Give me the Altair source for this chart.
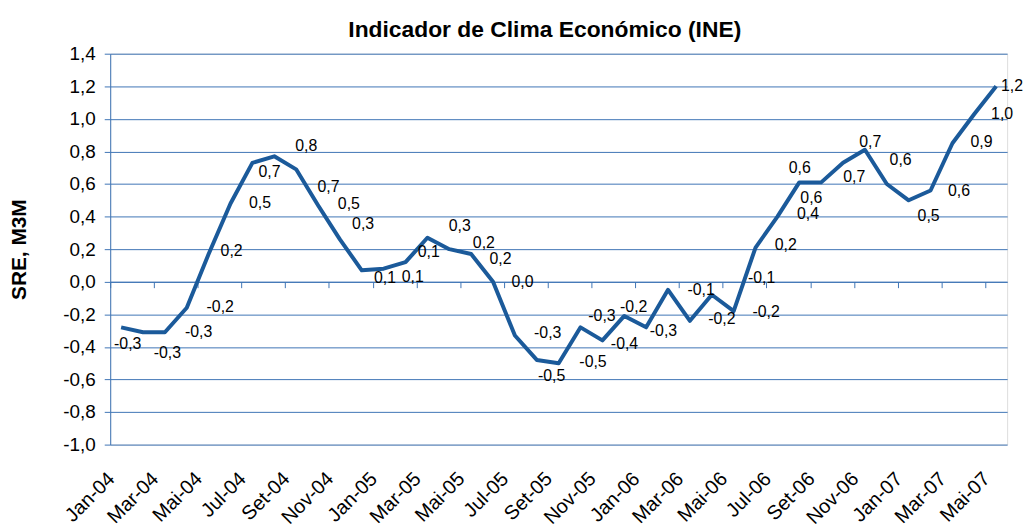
import altair as alt
import pandas as pd

FONT = "Liberation Sans, Arial, sans-serif"

months = ["Jan-04", "Fev-04", "Mar-04", "Abr-04", "Mai-04", "Jun-04", "Jul-04", "Ago-04",
          "Set-04", "Out-04", "Nov-04", "Dez-04", "Jan-05", "Fev-05", "Mar-05", "Abr-05",
          "Mai-05", "Jun-05", "Jul-05", "Ago-05", "Set-05", "Out-05", "Nov-05", "Dez-05",
          "Jan-06", "Fev-06", "Mar-06", "Abr-06", "Mai-06", "Jun-06", "Jul-06", "Ago-06",
          "Set-06", "Out-06", "Nov-06", "Dez-06", "Jan-07", "Fev-07", "Mar-07", "Abr-07",
          "Mai-07"]
values = [-0.28, -0.31, -0.31, -0.16, 0.17, 0.48, 0.73, 0.77, 0.69, 0.47, 0.26, 0.07,
          0.08, 0.12, 0.27, 0.20, 0.17, 0.00, -0.33, -0.48, -0.50, -0.28, -0.36, -0.21,
          -0.28, -0.05, -0.24, -0.08, -0.18, 0.21, 0.40, 0.61, 0.61, 0.73, 0.81, 0.60,
          0.50, 0.56, 0.85, 1.03, 1.20]

# data labels as they appear on the chart (text, month position, value position)
label_text = ["-0,3", "-0,3", "-0,3", "-0,2", "0,2", "0,5", "0,7", "0,8", "0,7", "0,5",
              "0,3", "0,1", "0,1", "0,1", "0,3", "0,2", "0,2", "0,0", "-0,3", "-0,5",
              "-0,5", "-0,3", "-0,4", "-0,2", "-0,3", "-0,1", "-0,2", "-0,1", "-0,2", "0,2",
              "0,4", "0,6", "0,6", "0,7", "0,7", "0,6", "0,5", "0,6", "0,9", "1,0", "1,2"]
label_x = [0.80, 2.61, 4.04, 5.03, 5.55, 6.85, 7.28, 8.96, 9.98, 10.91,
           11.56, 12.56, 13.83, 14.56, 15.98, 17.08, 17.84, 18.85, 20.00, 20.18,
           22.07, 22.48, 23.51, 23.93, 25.29, 27.01, 27.96, 29.78, 29.98, 30.88,
           31.90, 32.05, 31.52, 34.01, 34.74, 36.13, 37.41, 38.80, 39.83, 40.77, 41.22]
label_y = [-0.385, -0.436, -0.306, -0.155, 0.19, 0.484, 0.675, 0.831, 0.584, 0.478,
           0.356, 0.021, 0.027, 0.183, 0.34, 0.235, 0.139, -0.003, -0.314, -0.582,
           -0.493, -0.208, -0.385, -0.158, -0.304, -0.05, -0.228, 0.021, -0.188, 0.224,
           0.413, 0.515, 0.701, 0.644, 0.858, 0.748, 0.403, 0.555, 0.86, 1.032, 1.199]

y_ticks = [-1.0, -0.8, -0.6, -0.4, -0.2, 0.0, 0.2, 0.4, 0.6, 0.8, 1.0, 1.2, 1.4]
x_ticks = list(range(0, 41, 2))
x_label_names = months[::2]

line_df = pd.DataFrame({"pos": [i + 0.5 for i in range(len(months))],
                        "mes": months, "valor": values})
lab_df = pd.DataFrame({"pos": label_x, "valor": label_y, "txt": label_text})

BLUE_LINE = "#1B5A9A"
GRID = "#3F74B5"

xscale = alt.Scale(domain=[0, 41], nice=False, zero=False)
yscale = alt.Scale(domain=[-1.0, 1.4], nice=False, zero=False)

def yaxis():
    return alt.Axis(values=y_ticks, title="SRE, M3M",
                    labelExpr="replace(replace(format(datum.value, '.1f'), '.', ','), '\u2212', '-')",
                    grid=True, gridColor=GRID, gridWidth=1, gridOpacity=1,
                    domainColor=GRID, tickColor=GRID, tickSize=6, tickWidth=1,
                    labelFont=FONT, labelFontSize=19, labelColor="#000000", labelPadding=9,
                    titleFont=FONT, titleFontSize=21, titleFontWeight="bold",
                    titleColor="#000000", titlePadding=34)

line = alt.Chart(line_df).mark_line(color=BLUE_LINE, strokeWidth=4, strokeJoin="round").encode(
    x=alt.X("pos:Q", scale=xscale,
            axis=alt.Axis(values=x_ticks, labels=False, grid=False, orient="bottom",
                          title=None, domain=True, domainColor=GRID, ticks=True,
                          tickColor=GRID, tickSize=6, offset=-164.2)),
    y=alt.Y("valor:Q", scale=yscale, axis=yaxis()),
)

names_js = "[" + ",".join("'" + n + "'" for n in x_label_names) + "]"
labels = alt.Chart(lab_df).mark_text(font=FONT, fontSize=16, color="#000000").encode(
    x=alt.X("pos:Q", scale=xscale,
            axis=alt.Axis(values=x_ticks, labelExpr=names_js + "[round(datum.value / 2)]",
                          ticks=False, domain=False, grid=False, orient="bottom",
                          title=None, labelAngle=-45, labelAlign="right",
                          labelBaseline="middle", labelPadding=31, labelOffset=1,
                          labelFont=FONT, labelFontSize=20, labelColor="#000000",
                          labelOverlap=False, labelBound=False, labelFlush=False)),
    y=alt.Y("valor:Q", scale=yscale, axis=yaxis()),
    text="txt:N",
)

chart = alt.layer(line, labels).resolve_axis(x="independent").properties(
    width=904, height=394,
    title=alt.TitleParams("Indicador de Clima Económico (INE)", font=FONT, fontSize=23,
                          fontWeight="bold", color="#000000", anchor="middle",
                          offset=3, dx=-14),
    autosize=alt.AutoSizeParams(type="none"),
    padding={"left": 103, "top": 44, "right": 16, "bottom": 83},
).configure_view(stroke=None).configure(background="#ffffff")

chart.save("out.html", embed_options={"renderer": "svg", "actions": False})
